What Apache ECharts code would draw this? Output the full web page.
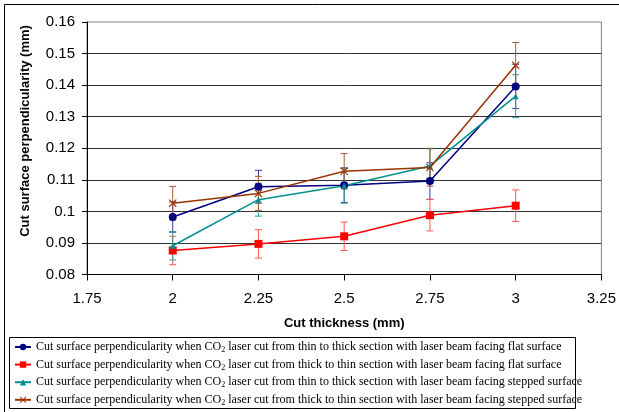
<!DOCTYPE html>
<html>
<head>
<meta charset="utf-8">
<script src="https://cdn.jsdelivr.net/npm/echarts@6/dist/echarts.min.js"></script>
<style>
  html, body { margin: 0; padding: 0; background: #fff; }
  #chart { width: 619px; height: 412px; }
</style>
</head>
<body>
<div id="chart"></div>
<script>
// thickness (mm)
var thickness = [2, 2.25, 2.5, 2.75, 3];

// perpendicularity (mm) and error bar half widths
var thinThickFlat = [0.0982, 0.1078, 0.1083, 0.1096, 0.1396];
var thinThickFlatErr = [0.0048, 0.0052, 0.0055, 0.0058, 0.007];
var thickThinFlat = [0.0876, 0.0897, 0.0921, 0.0988, 0.1018];
var thickThinFlatErr = [0.0045, 0.0045, 0.0045, 0.005, 0.005];
var thinThickStep = [0.0891, 0.1037, 0.1081, 0.1144, 0.1365];
var thinThickStepErr = [0.0045, 0.0052, 0.0055, 0.0056, 0.0068];
var thickThinStep = [0.1026, 0.1057, 0.1127, 0.1139, 0.1463];
var thickThinStepErr = [0.0053, 0.0054, 0.0056, 0.0059, 0.0072];

var seriesNames = [
  "Cut surface perpendicularity when CO2 laser cut from thin to thick section with laser beam facing flat surface",
  "Cut surface perpendicularity when CO2 laser cut from thick to thin section with laser beam facing flat surface",
  "Cut surface perpendicularity when CO2 laser cut from thin to thick section with laser beam facing stepped surface",
  "Cut surface perpendicularity when CO2 laser cut from thick to thin section with laser beam facing stepped surface"
];

var xMarker = "path://M0,1L1,0L5,4L9,0L10,1L6,5L10,9L9,10L5,6L1,10L0,9L4,5Z";

var dom = document.getElementById("chart");
var myChart = echarts.init(dom, null, { renderer: "canvas" });

function points(values) {
  return thickness.map((x, i) => [x, values[i]]);
}

function errorSeries(values, errs, color) {
  return {
    type: "custom",
    silent: true,
    data: thickness.map((x, i) => [x, values[i] - errs[i], values[i] + errs[i]]),
    renderItem: function (params, api) {
      var lo = api.coord([api.value(0), api.value(1)]);
      var hi = api.coord([api.value(0), api.value(2)]);
      var w = 3.5;
      var style = { stroke: color, lineWidth: 1 };
      return {
        type: "group",
        children: [
          { type: "line", shape: { x1: lo[0], y1: lo[1], x2: hi[0], y2: hi[1] }, style: style },
          { type: "line", shape: { x1: lo[0] - w, y1: lo[1], x2: lo[0] + w, y2: lo[1] }, style: style },
          { type: "line", shape: { x1: hi[0] - w, y1: hi[1], x2: hi[0] + w, y2: hi[1] }, style: style }
        ]
      };
    },
    z: 1
  };
}

function lineSeries(name, values, color, symbol, size) {
  return {
    name: name,
    type: "line",
    data: points(values),
    symbol: symbol,
    symbolSize: size,
    lineStyle: { color: color, width: 1.5 },
    itemStyle: { color: color },
    z: 3
  };
}

var option = {
  animation: false,
  grid: { left: 87, right: 16, top: 22, bottom: 137.5, show: true, borderColor: "#808080", borderWidth: 1 },
  xAxis: {
    type: "value",
    min: 1.75,
    max: 3.25,
    interval: 0.25,
    name: "Cut thickness (mm)",
    nameLocation: "middle",
    nameGap: 42,
    nameTextStyle: { fontFamily: "Liberation Sans", fontWeight: "bold", fontSize: 13, color: "#000" },
    axisLine: { lineStyle: { color: "#000" } },
    axisTick: { length: 6, lineStyle: { color: "#000" } },
    axisLabel: { margin: 17, fontFamily: "Liberation Sans", fontSize: 15, color: "#000", showMinLabel: true, showMaxLabel: true },
    splitLine: { show: false }
  },
  yAxis: {
    type: "value",
    min: 0.08,
    max: 0.16,
    interval: 0.01,
    axisLine: { show: true, lineStyle: { color: "#000" } },
    axisTick: { show: true, length: 5, lineStyle: { color: "#000" } },
    axisLabel: { margin: 12, fontFamily: "Liberation Sans", fontSize: 15, color: "#000" },
    splitLine: { show: true, showMaxLine: false, lineStyle: { color: "#333", width: 1 } }
  },
  legend: {
    orient: "vertical",
    left: 14,
    top: 340,
    padding: 0,
    itemGap: 3.6,
    itemWidth: 16,
    itemHeight: 8,
    data: seriesNames,
    formatter: function (name) {
      return name.replace("CO2", "CO{sub|2}");
    },
    textStyle: {
      fontFamily: "Liberation Serif",
      fontSize: 12,
      lineHeight: 14,
      color: "#000",
      rich: {
        sub: { fontFamily: "Liberation Serif", fontSize: 8, lineHeight: 14, verticalAlign: "bottom", padding: [4, 0, 0, 0] }
      }
    }
  },
  graphic: [
    { type: "rect", shape: { x: 4.5, y: 4.5, width: 640, height: 440 }, style: { fill: "none", stroke: "#000", lineWidth: 1 }, silent: true },
    { type: "rect", shape: { x: 9.5, y: 337.5, width: 566, height: 71 }, style: { fill: "none", stroke: "#000", lineWidth: 1 }, silent: true },
    {
      type: "text",
      x: 25,
      y: 131,
      rotation: Math.PI / 2,
      style: {
        text: "Cut surface perpendicularity (mm)",
        fontFamily: "Liberation Sans",
        fontWeight: "bold",
        fontSize: 13,
        fill: "#000",
        align: "center",
        verticalAlign: "middle"
      }
    }
  ],
  series: [
    errorSeries(thinThickFlat, thinThickFlatErr, "#3a3aa6"),
    errorSeries(thickThinFlat, thickThinFlatErr, "#ff5a5a"),
    errorSeries(thinThickStep, thinThickStepErr, "#2f9a9a"),
    errorSeries(thickThinStep, thickThinStepErr, "#a85a30"),
    lineSeries(seriesNames[0], thinThickFlat, "#000080", "circle", 8),
    lineSeries(seriesNames[1], thickThinFlat, "#ff0000", "rect", 8),
    lineSeries(seriesNames[2], thinThickStep, "#009090", "triangle", 6),
    lineSeries(seriesNames[3], thickThinStep, "#993300", xMarker, 8)
  ]
};

myChart.setOption(option);
window.addEventListener("resize", myChart.resize);
</script>
</body>
</html>
